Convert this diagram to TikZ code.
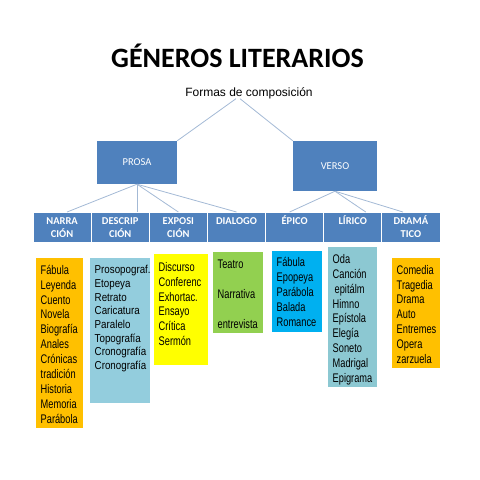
\documentclass[tikz,border=0pt]{standalone}
\usepackage{fontspec}
\setmainfont{Carlito}
\newfontfamily\arial{Liberation Sans}
\newfontfamily\arialnarrow[FakeStretch=0.74]{Liberation Sans}
\newfontfamily\arialsemi[FakeStretch=0.85]{Liberation Sans}
\definecolor{boxblue}{HTML}{4F81BD}
\definecolor{linkgray}{HTML}{A3B9D5}
\definecolor{orangefill}{HTML}{FFC000}
\definecolor{paleblue}{HTML}{93CDDD}
\definecolor{greyblue}{HTML}{8CC8D2}
\definecolor{yellowfill}{HTML}{FFFF00}
\definecolor{greenfill}{HTML}{92D050}
\definecolor{cyanfill}{HTML}{00B0F0}
\begin{document}
\begin{tikzpicture}[x=1pt,y=-1pt,
    genre/.style={fill=boxblue, text=white, inner sep=0pt,
      font=\fontsize{10.5}{12}\selectfont},
    kind/.style={fill=boxblue, draw=white, line width=0.8pt, text=white,
      anchor=north, inner sep=0pt, text width=58.14pt, align=center,
      text height=12pt, text depth=18pt,
      font=\bfseries\fontsize{10.5}{13}\selectfont},
    list/.style={anchor=north west, inner xsep=4.5pt, inner ysep=0pt,
      align=left, font=\arialnarrow\fontsize{12.5}{14.9}\selectfont},
    link/.style={draw=linkgray, line width=0.8pt}]
  \useasboundingbox (0,0) rectangle (480,480);
  \node[anchor=base, font=\bfseries\fontsize{28}{30}\selectfont] (title)
    at (237.5,67) {GÉNEROS LITERARIOS};
  \node[anchor=base, inner sep=0pt, font=\arial\fontsize{12}{14}\selectfont]
    (formas) at (249,96) {Formas de composición};
  \node[genre, minimum width=80pt, minimum height=43pt] (prosa) at (137,162.5) {PROSA};
  \node[genre, minimum width=84pt, minimum height=50pt] (verso) at (335,166) {VERSO};
  % categories
  \node[kind] (narr) at (62.07,212) {NARRA\\CIÓN};
  \node[kind] (descr) at (120.21,212) {DESCRIP\\CIÓN};
  \node[kind] (expos) at (178.35,212) {EXPOSI\\CIÓN};
  \node[kind] (dialog) at (236.5,212) {DIALOGO};
  \node[kind] (epico) at (294.64,212) {ÉPICO};
  \node[kind] (lirico) at (352.78,212) {LÍRICO};
  \node[kind] (drama) at (410.93,212) {DRAMÁ\\TICO};
  % lists
  \node[list, fill=orangefill, text width=38pt, text height=16pt, text depth=154pt]
    (narrlist) at (36,258)
    {Fábula\\Leyenda\\Cuento\\Novela\\Biografía\\Anales\\Crónicas\\tradición\\Historia\\Memoria\\Parábola};
  \node[list, fill=paleblue, text width=51pt, text height=15.5pt, text depth=129.5pt,
    font=\arialsemi\fontsize{11.5}{13.7}\selectfont]
    (descrlist) at (90,258)
    {Prosopograf.\\Etopeya\\Retrato\\Caricatura\\Paralelo\\Topografía\\Cronografía\\Cronografía};
  \node[list, fill=yellowfill, text width=45pt, text height=17pt, text depth=94pt]
    (exposlist) at (154,254)
    {Discurso\\Conferenc\\Exhortac.\\Ensayo\\Crítica\\Sermón};
  \node[list, fill=greenfill, text width=41pt, text height=16.5pt, text depth=64.5pt]
    (dialoglist) at (213,252)
    {Teatro\\[15.1pt]Narrativa\\[15.1pt]entrevista};
  \node[list, fill=cyanfill, text width=41pt, text height=15.5pt, text depth=65.5pt]
    (epicolist) at (272,251)
    {Fábula\\Epopeya\\Parábola\\Balada\\Romance};
  \node[list, fill=greyblue, text width=40pt, text height=16.5pt, text depth=123.5pt,
    font=\arialnarrow\fontsize{12.5}{14.8}\selectfont]
    (lirolist) at (328,247)
    {Oda\\Canción\\\hspace{2pt}epitálm\\Himno\\Epístola\\Elegía\\Soneto\\Madrigal\\Epigrama};
  \node[list, fill=orangefill, text width=39pt, text height=16pt, text depth=94pt,
    font=\arialnarrow\fontsize{12.5}{14.8}\selectfont]
    (dramalist) at (392,258)
    {Comedia\\Tragedia\\Drama\\Auto\\Entremes\\Opera\\zarzuela};
  \begin{scope}[link]
    \draw ([xshift=-13pt]formas.south) to (prosa.north east);
    \draw ([xshift=-9pt]formas.south) to (verso.north west);
    \draw (prosa.south) to ([xshift=5pt]narr.north);
    \draw (prosa.south) to (prosa.south |- descr.north);
    \draw (prosa.south) to (expos.north);
    \draw (prosa.south) to (dialog.north);
    \draw (verso.south) to ([xshift=-5pt]epico.north);
    \draw (verso.south) to ([xshift=13pt]lirico.north);
    \draw (verso.south) to ([xshift=-8pt]drama.north);
  \end{scope}
\end{tikzpicture}
\end{document}
